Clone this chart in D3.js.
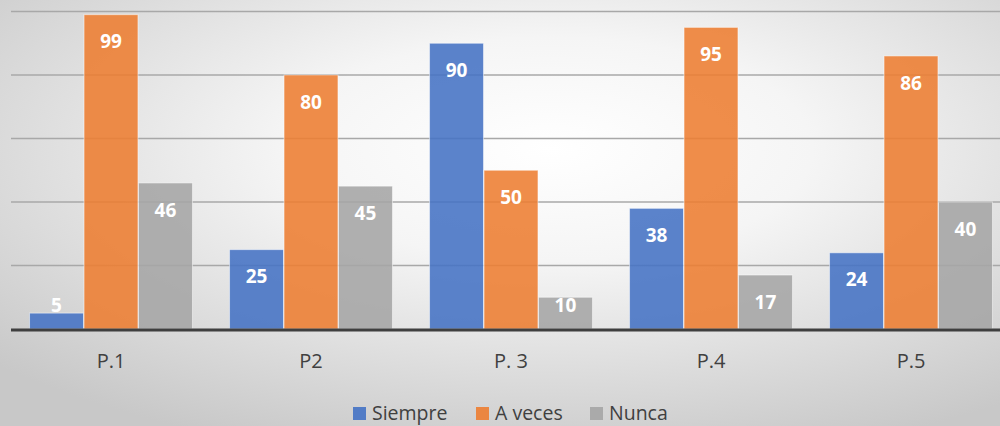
<!DOCTYPE html>
<html>
<head>
<meta charset="utf-8">
<script src="https://cdn.jsdelivr.net/npm/d3@7"></script>
<style>
  body { margin: 0; }
  svg { display: block; }
</style>
</head>
<body>
<div id="chart"></div>
<script>
const categories = ["P.1", "P2", "P. 3", "P.4", "P.5"];
const keys = ["Siempre", "A veces", "Nunca"];
const siempre = [5, 25, 90, 38, 24];
const aVeces = [99, 80, 50, 95, 86];
const nunca = [46, 45, 10, 17, 40];
const yTicks = [0, 20, 40, 60, 80, 100];
const colors = ["#4472C4", "#ED7D31", "#A5A5A5"];

const data = categories.map((c, i) => ({
  cat: c,
  values: [siempre[i], aVeces[i], nunca[i]]
}));

const width = 1000, height = 426;

const svg = d3.select("#chart")
  .append("svg")
  .attr("width", width)
  .attr("height", height);

// background gradient
const defs = svg.append("defs");
const grad = defs.append("radialGradient")
  .attr("id", "bg")
  .attr("cx", "55%").attr("cy", "35%").attr("r", "75%");
grad.append("stop").attr("offset", "0%").attr("stop-color", "#ffffff");
grad.append("stop").attr("offset", "35%").attr("stop-color", "#f5f5f5");
grad.append("stop").attr("offset", "100%").attr("stop-color", "#c8c8c8");

svg.append("rect")
  .attr("width", width).attr("height", height)
  .attr("fill", "url(#bg)");

const x0 = d3.scaleBand()
  .domain(categories)
  .range([11, 1011])
  .paddingInner(0.18)
  .paddingOuter(0.09);

const x1 = d3.scaleBand()
  .domain(keys)
  .range([0, x0.bandwidth()])
  .padding(0.01);

const y = d3.scaleLinear()
  .domain([0, 100])
  .range([329, 11.5]);

const color = d3.scaleOrdinal().domain(keys).range(colors);

// gridlines
svg.append("g")
  .selectAll("line")
  .data(yTicks.slice(1))
  .join("line")
  .attr("x1", 11).attr("x2", width)
  .attr("y1", d => y(d)).attr("y2", d => y(d))
  .attr("stroke", "#a8a8a8")
  .attr("stroke-width", 1.5);

// bars
const groups = svg.append("g")
  .selectAll("g")
  .data(data)
  .join("g")
  .attr("transform", d => `translate(${x0(d.cat)},0)`);

groups.selectAll("rect")
  .data(d => d.values.map((v, i) => ({ key: keys[i], value: v })))
  .join("rect")
  .attr("x", d => x1(d.key))
  .attr("y", d => y(d.value))
  .attr("width", x1.bandwidth())
  .attr("height", d => y(0) - y(d.value))
  .attr("fill", d => color(d.key))
  .attr("fill-opacity", 0.88)
  .attr("stroke", "#ffffff")
  .attr("stroke-opacity", 0.5)
  .attr("stroke-width", 1);

// value labels, pushed up when the bar is too short
groups.selectAll("text")
  .data(d => d.values.map((v, i) => ({ key: keys[i], value: v })))
  .join("text")
  .attr("x", d => x1(d.key) + x1.bandwidth() / 2)
  .attr("y", d => Math.min(y(d.value) + 27, y(0) - 24))
  .attr("dy", "0.35em")
  .attr("text-anchor", "middle")
  .attr("fill", "#ffffff")
  .style("font-family", "'Open Sans', sans-serif")
  .style("font-weight", "bold")
  .style("font-size", "19px")
  .text(d => d.value);

// baseline
svg.append("line")
  .attr("x1", 11).attr("x2", width)
  .attr("y1", y(0) + 1).attr("y2", y(0) + 1)
  .attr("stroke", "#3f3f3f")
  .attr("stroke-width", 3);

// category labels
svg.append("g")
  .selectAll("text")
  .data(categories)
  .join("text")
  .attr("x", d => x0(d) + x0.bandwidth() / 2)
  .attr("y", 361)
  .attr("dy", "0.35em")
  .attr("text-anchor", "middle")
  .attr("fill", "#404040")
  .style("font-family", "'Open Sans', sans-serif")
  .style("font-size", "20px")
  .text(d => d);

// legend
const legendX = [353, 476, 590];
const legend = svg.append("g")
  .selectAll("g")
  .data(keys)
  .join("g")
  .attr("transform", (d, i) => `translate(${legendX[i]},413)`);

legend.append("rect")
  .attr("x", 0).attr("y", -6)
  .attr("width", 13).attr("height", 13)
  .attr("fill", d => color(d))
  .attr("fill-opacity", 0.9);

legend.append("text")
  .attr("x", 19)
  .attr("y", 0)
  .attr("dy", "0.35em")
  .attr("fill", "#404040")
  .style("font-family", "'Open Sans', sans-serif")
  .style("font-size", "19.5px")
  .text(d => d);
</script>
</body>
</html>
